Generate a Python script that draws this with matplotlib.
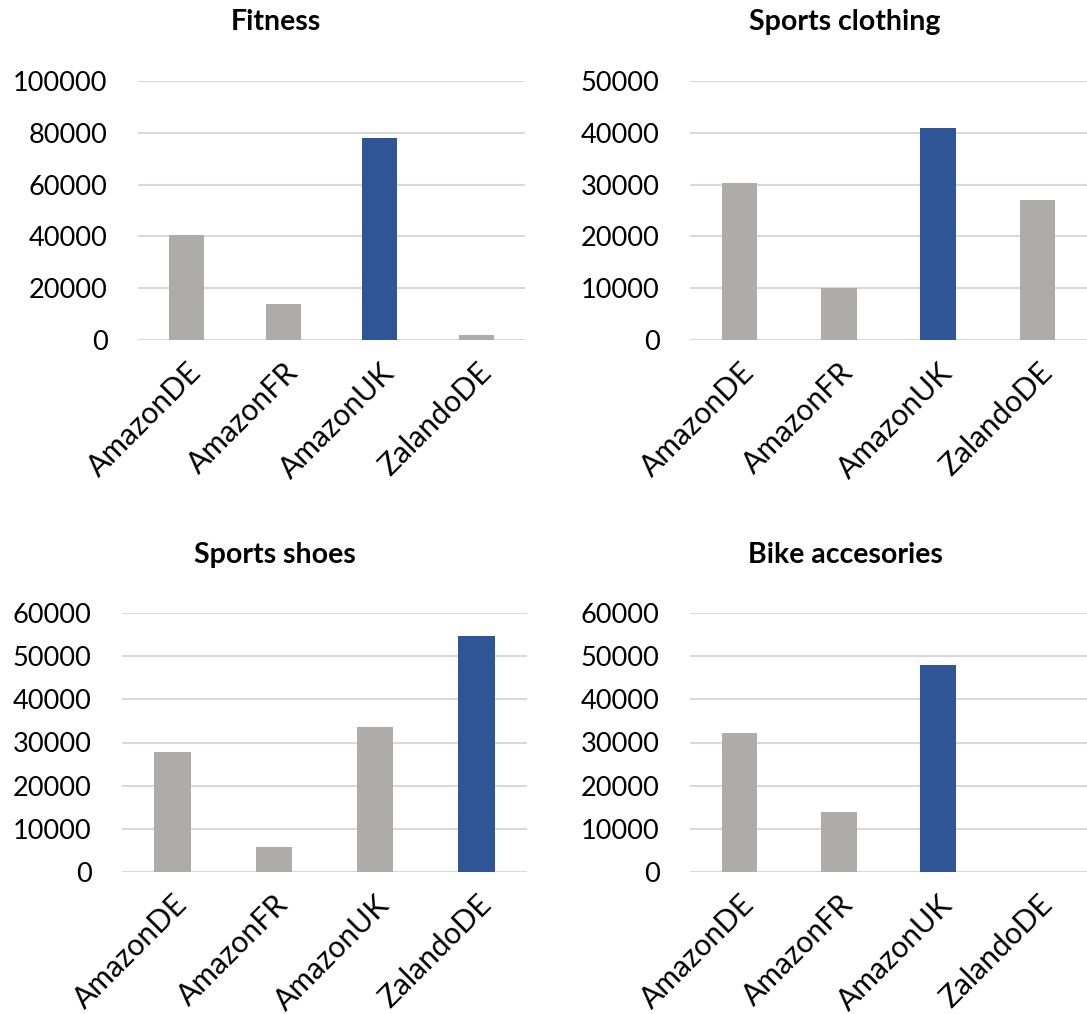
import matplotlib
matplotlib.use('Agg')
import matplotlib.pyplot as plt
import numpy as np

plt.rcParams['font.family'] = ['Lato', 'DejaVu Sans']

# --- data ---
shops = ["AmazonDE", "AmazonFR", "AmazonUK", "ZalandoDE"]
fitness = [40700, 14000, 77800, 2100]
sports_clothing = [30400, 10100, 40850, 27100]
sports_shoes = [27700, 5900, 33500, 54750]
bike_accesories = [32300, 13800, 48050, 0]

titles = ["Fitness", "Sports clothing", "Sports shoes", "Bike accesories"]
series = [fitness, sports_clothing, sports_shoes, bike_accesories]
y_max = [100000, 50000, 60000, 60000]
y_step = [20000, 10000, 10000, 10000]

GREY = "#AEABAB"
BLUE = "#2F5597"
GRID = "#D9D9D9"

W, H = 1087, 1014
fig = plt.figure(figsize=(W / 100, H / 100), dpi=100)

# axes boxes in pixels: left, right, top, bottom
boxes = [(138, 525, 81, 340), (690, 1087, 81, 340),
         (122, 527, 613, 872), (690, 1087, 613, 872)]
title_pos = [(276, 22), (845, 22), (275, 555), (845, 555)]

for i in range(4):
    l, r, t, b = boxes[i]
    ax = fig.add_axes([l / W, 1 - b / H, (r - l) / W, (b - t) / H])
    vals = series[i]
    colors = [BLUE if v == max(vals) else GREY for v in vals]
    x = np.arange(len(shops))
    ax.bar(x, vals, width=0.36, color=colors, zorder=3)
    ax.set_xlim(-0.5, len(shops) - 0.5)
    ax.set_ylim(0, y_max[i])
    ticks = np.arange(0, y_max[i] + 1, y_step[i])
    ax.set_yticks(ticks)
    ax.set_yticklabels([str(v) for v in ticks])
    ax.grid(axis='y', color=GRID, linewidth=1.5, zorder=0)
    ax.set_axisbelow(True)
    for s in ax.spines.values():
        s.set_visible(False)
    ax.tick_params(length=0, labelsize=19.5, pad=22)
    ax.set_xticks(x)
    ax.set_xticklabels(shops, rotation=45, ha='right', va='top',
                       rotation_mode='anchor', fontsize=21.5)
    ax.tick_params(axis='x', pad=13)
    fig.text(title_pos[i][0] / W, 1 - title_pos[i][1] / H, titles[i],
             ha='center', va='center', fontsize=20.5, fontweight='bold')

fig.savefig("out.png", dpi=100)
